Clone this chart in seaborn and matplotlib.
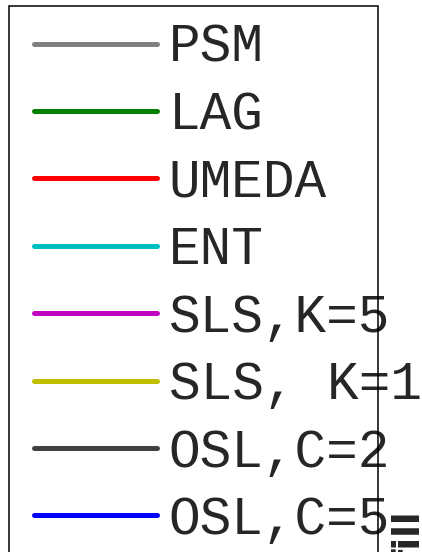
import matplotlib
matplotlib.use("Agg")
import matplotlib.pyplot as plt
from matplotlib.lines import Line2D
from matplotlib.patches import Rectangle
import seaborn as sns

# legend entries
labels = ["PSM", "LAG", "UMEDA", "ENT", "SLS,K=5", "SLS, K=1", "OSL,C=2", "OSL,C=5"]
colors = ["#808080", "#008000", "#ff0000", "#00bfbf", "#bf00bf", "#bfbf00", "#404040", "#0000ff"]
side_label = "fill"

sns.set_theme(style="white")
plt.rcParams["font.family"] = ["DejaVu Sans"]

W, H = 422, 552
fig = plt.figure(figsize=(W / 100, H / 100), dpi=100)
ax = fig.add_axes([0, 0, 1, 1])
ax.set_axis_off()

# frame of the legend box (text overflows it, like in the original)
fig.patches.append(Rectangle((9 / W, -0.2), (378 - 9) / W, 1.2 - 6 / H,
                             transform=fig.transFigure, fill=False,
                             edgecolor="black", lw=1.1))

handles = [Line2D([], [], color=c, lw=3.6) for c in colors]
ax.legend(handles, labels, loc="upper left",
          bbox_to_anchor=(34 / W, 1 - 23 / H), bbox_transform=fig.transFigure,
          prop={"family": "Liberation Mono", "size": 38},
          handlelength=2.33, handletextpad=0.22, labelspacing=0.33,
          borderpad=0, borderaxespad=0, frameon=False)

fig.text(391 / W, 1 - 510 / H, side_label, rotation=90, ha="left", va="top",
         fontsize=27, fontweight="bold")

fig.savefig("out.png", dpi=100)
